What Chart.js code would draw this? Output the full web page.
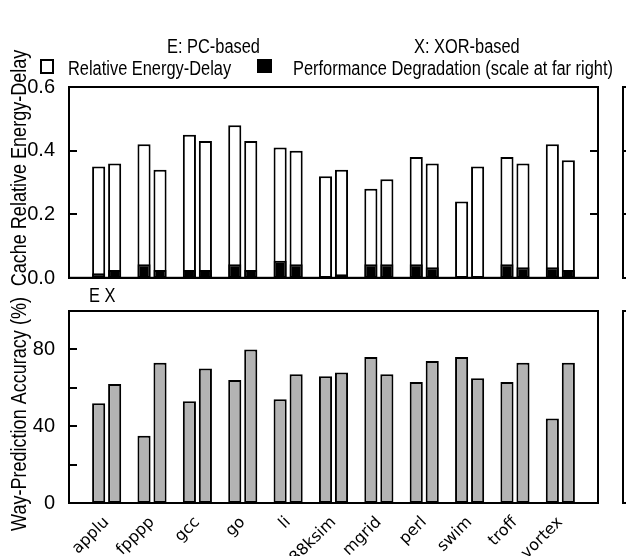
<!DOCTYPE html>
<html>
<head>
<meta charset="utf-8">
<script src="https://cdn.jsdelivr.net/npm/chart.js@4.4.1/dist/chart.umd.min.js"></script>
<style>
  html, body { margin: 0; padding: 0; background: #fff; }
  #wrap { position: relative; width: 626px; height: 556px; overflow: hidden; }
  .box { position: absolute; left: 0; width: 626px; }
</style>
</head>
<body>
<div id="wrap">
  <div class="box" style="top:0;height:296px"><canvas id="energyChart"></canvas></div>
  <div class="box" style="top:284px;height:272px"><canvas id="accuracyChart"></canvas></div>
</div>
<script>
const benchmarks = ['applu', 'fpppp', 'gcc', 'go', 'li', 'm88ksim', 'mgrid', 'perl', 'swim', 'troff', 'vortex'];

// cache relative energy-delay (E = PC-based, X = XOR-based)
const energyE = [0.35, 0.42, 0.45, 0.48, 0.41, 0.32, 0.28, 0.38, 0.24, 0.38, 0.42];
const energyX = [0.36, 0.34, 0.43, 0.43, 0.40, 0.34, 0.31, 0.36, 0.35, 0.36, 0.37];
// performance degradation, drawn in left-axis units (real scale is the far right panel)
const perfE = [0.015, 0.043, 0.025, 0.043, 0.054, 0, 0.043, 0.043, 0, 0.043, 0.034];
const perfX = [0.025, 0.025, 0.025, 0.025, 0.043, 0.012, 0.043, 0.034, 0, 0.034, 0.025];

// way-prediction accuracy (%)
const accE = [52, 35, 53, 64, 54, 66, 76, 63, 76, 63, 44];
const accX = [62, 73, 70, 80, 67, 68, 67, 74, 65, 73, 73];

const energyTicks = [0, 0.2, 0.4, 0.6];
const energyMarks = [0.2, 0.4];
const accTicks = [0, 40, 80];
const accMarks = [20, 40, 60, 80];

const FONT = "'Liberation Sans', Arial, sans-serif";
const NARROW = 0.82; // the original uses a narrow Helvetica
Chart.defaults.font.family = FONT;
Chart.defaults.color = '#000';

const toPoints = arr => arr.map((v, i) => ({ x: i, y: v }));

function narrowText(ctx, text, x, y, size, angle) {
    ctx.save();
    ctx.font = size + 'px ' + FONT;
    ctx.translate(x, y);
    if (angle) ctx.rotate(angle);
    ctx.scale(NARROW, 1);
    ctx.fillText(text, 0, 0);
    ctx.restore();
}

// frame, inward ticks, titles and the clipped neighbour panel
const framePlugin = {
    id: 'frame',
    beforeDatasetsDraw(chart, args, opts) {
        if (!opts.zeroLine) return;
        const { ctx, chartArea: a } = chart;
        const py = Math.round(chart.scales.y.getPixelForValue(0)) - 1.5;
        ctx.save();
        ctx.strokeStyle = '#c8c8c8';
        ctx.lineWidth = 1;
        ctx.beginPath();
        ctx.moveTo(a.left, py);
        ctx.lineTo(a.right, py);
        ctx.stroke();
        ctx.restore();
    },
    afterDraw(chart, args, opts) {
        const { ctx, chartArea: a } = chart;
        const y = chart.scales.y;
        ctx.save();
        ctx.strokeStyle = '#000';
        ctx.lineWidth = 2;
        ctx.strokeRect(a.left, a.top, a.right - a.left, a.bottom - a.top);

        const nx = a.right + 25;
        ctx.beginPath();
        opts.marks.forEach(v => {
            const py = Math.round(y.getPixelForValue(v));
            ctx.moveTo(a.left, py); ctx.lineTo(a.left + 8, py);
            if (opts.rightMarks) {
                ctx.moveTo(a.right, py); ctx.lineTo(a.right - 8, py);
                ctx.moveTo(nx, py); ctx.lineTo(nx + 8, py);
            }
        });
        ctx.moveTo(chart.width + 5, a.top);
        ctx.lineTo(nx, a.top);
        ctx.lineTo(nx, a.bottom);
        ctx.lineTo(chart.width + 5, a.bottom);
        ctx.stroke();

        ctx.fillStyle = '#000';
        ctx.textBaseline = 'alphabetic';
        ctx.textAlign = 'center';
        narrowText(ctx, opts.title, 26, opts.titleCenter, 22, -Math.PI / 2);

        ctx.textAlign = 'left';
        if (opts.legend) {
            narrowText(ctx, 'E: PC-based', 167, 53, 20);
            narrowText(ctx, 'X: XOR-based', 414, 53, 20);
            narrowText(ctx, 'Relative Energy-Delay', 68, 75, 20);
            narrowText(ctx, 'Performance Degradation (scale at far right)', 293, 75, 20);
            ctx.strokeRect(41, 60, 12, 13);
            ctx.fillRect(257, 59, 15, 14);
        }
        if (opts.groupLabel) {
            const bar = chart.getDatasetMeta(0).data[0];
            narrowText(ctx, 'E X', bar.x - bar.width / 2 - 3, 18, 20);
        }
        ctx.restore();
    }
};

const xRange = { type: 'linear', min: -0.83, max: 10.83, offset: false };

function yAxis(min, max, ticks, fmt) {
    return {
        min: min, max: max, stacked: false,
        afterFit: s => { s.width = 69; },
        afterBuildTicks: s => { s.ticks = ticks.map(v => ({ value: v })); },
        grid: { display: false },
        border: { display: false },
        ticks: { padding: 6, font: { size: 20 }, callback: fmt }
    };
}

const barStyle = { borderColor: '#000', borderWidth: 2, borderSkipped: false, categoryPercentage: 0.705, barPercentage: 0.82 };

new Chart(document.getElementById('energyChart'), {
    type: 'bar',
    data: {
        datasets: [
            { ...barStyle, label: 'Perf E', data: toPoints(perfE), stack: 'E', backgroundColor: '#000', order: 0 },
            { ...barStyle, label: 'Perf X', data: toPoints(perfX), stack: 'X', backgroundColor: '#000', order: 0 },
            { ...barStyle, label: 'Energy E', data: toPoints(energyE), stack: 'E', backgroundColor: '#fff', order: 1 },
            { ...barStyle, label: 'Energy X', data: toPoints(energyX), stack: 'X', backgroundColor: '#fff', order: 1 }
        ]
    },
    options: {
        responsive: true,
        maintainAspectRatio: false,
        animation: false,
        layout: { padding: { top: 87, right: 28, bottom: 12, left: 0 } },
        scales: {
            x: { ...xRange, display: false },
            y: yAxis(0, 0.6, energyTicks, v => v.toFixed(1))
        },
        plugins: {
            legend: { display: false },
            tooltip: { enabled: false },
            frame: { marks: energyMarks, rightMarks: true, zeroLine: true, legend: true,
                     title: 'Cache Relative Energy-Delay', titleCenter: 168 }
        }
    },
    plugins: [framePlugin]
});

new Chart(document.getElementById('accuracyChart'), {
    type: 'bar',
    data: {
        datasets: [
            { ...barStyle, label: 'E', data: toPoints(accE), backgroundColor: '#b3b3b3' },
            { ...barStyle, label: 'X', data: toPoints(accX), backgroundColor: '#b3b3b3' }
        ]
    },
    options: {
        responsive: true,
        maintainAspectRatio: false,
        animation: false,
        layout: { padding: { top: 27, right: 28, bottom: 0, left: 0 } },
        scales: {
            x: {
                ...xRange,
                afterBuildTicks: s => { s.ticks = benchmarks.map((b, i) => ({ value: i })); },
                afterFit: s => { s.height = 53; },
                grid: { display: false },
                border: { display: false },
                ticks: { minRotation: 45, maxRotation: 45, autoSkip: false, padding: 2,
                         font: { family: 'DejaVu Sans', size: 16 }, callback: v => benchmarks[v] }
            },
            y: yAxis(0, 100, accTicks, v => v)
        },
        plugins: {
            legend: { display: false },
            tooltip: { enabled: false },
            frame: { marks: accMarks, rightMarks: false, groupLabel: true,
                     title: 'Way-Prediction Accuracy (%)', titleCenter: 130 }
        }
    },
    plugins: [framePlugin]
});
</script>
</body>
</html>
